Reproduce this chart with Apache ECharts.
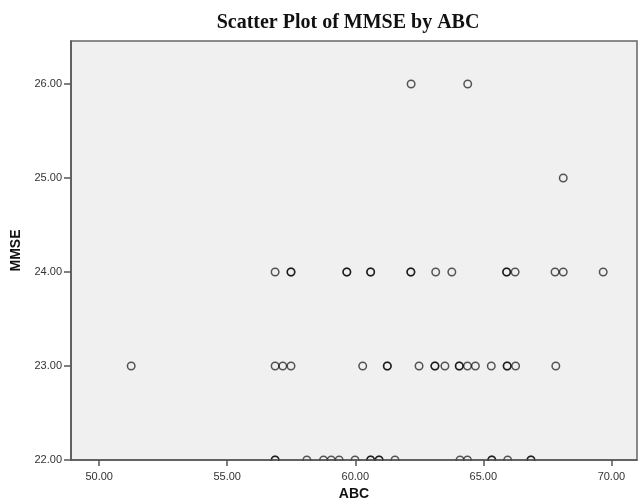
<!DOCTYPE html>
<html>
<head>
<meta charset="utf-8">
<script src="https://cdn.jsdelivr.net/npm/echarts@6/dist/echarts.min.js"></script>
<style>
  html, body { margin: 0; padding: 0; background: #fff; }
  #chart { width: 639px; height: 500px; }
</style>
</head>
<body>
<div id="chart"></div>
<script>
// 数据: 每一行 MMSE 对应的 ABC 值 (重复值表示重叠的点)
var abc22 = [56.87, 56.87, 58.11, 58.76, 59.06, 59.37, 59.99, 60.60, 60.60, 60.93, 60.93, 61.55, 64.09, 64.38, 65.33, 65.33, 65.95, 66.86, 66.86];
var abc23 = [51.25, 56.87, 57.17, 57.49, 60.29, 61.25, 61.25, 62.49, 63.11, 63.11, 63.50, 64.06, 64.06, 64.38, 64.69, 65.31, 65.93, 65.93, 66.26, 67.83];
var abc24 = [56.87, 57.49, 57.49, 59.67, 59.67, 60.60, 60.60, 62.17, 62.17, 63.14, 63.77, 65.91, 65.91, 66.24, 67.80, 68.12, 69.68];
var abc25 = [68.12];
var abc26 = [62.18, 64.39];
var xTicks = [50, 55, 60, 65, 70];
var yTicks = [22, 23, 24, 25, 26];

function rows() {
    var out = [];
    [[22, abc22], [23, abc23], [24, abc24], [25, abc25], [26, abc26]].forEach(function (r) {
        r[1].forEach(function (v) { out.push([v, r[0]]); });
    });
    return out;
}

{
    var myChart = echarts.init(document.getElementById('chart'));
    var labelStyle = { color: '#333', fontSize: 11, fontFamily: 'Liberation Sans, Arial, sans-serif' };
    var nameStyle = { color: '#111', fontSize: 14, fontWeight: 'bold', fontFamily: 'Liberation Sans, Arial, sans-serif' };
    var option = {
        backgroundColor: '#fff',
        animation: false,
        title: {
            text: 'Scatter Plot of MMSE by ABC',
            left: 343,
            textAlign: 'center',
            top: 8,
            textStyle: { fontFamily: 'Liberation Serif, Times New Roman, serif', fontWeight: 'bold', fontSize: 20, color: '#111' }
        },
        grid: {
            left: 71,
            top: 41,
            right: 2,
            bottom: 40,
            outerBoundsMode: 'none',
            containLabel: false,
            show: true,
            backgroundColor: '#f0f0f0',
            borderColor: '#666',
            borderWidth: 1.5
        },
        // 遮住底部点的下半部分 (像原图那样被坐标轴裁切)
        graphic: [{
            type: 'rect',
            z: 3,
            shape: { x: 60, y: 461, width: 579, height: 39 },
            style: { fill: '#fff' }
        }],
        xAxis: {
            type: 'value',
            z: 5,
            min: 48.9,
            max: 71.0,
            name: 'ABC',
            nameLocation: 'middle',
            nameGap: 21,
            nameTextStyle: nameStyle,
            splitLine: { show: false },
            axisLine: { show: true, onZero: false, lineStyle: { color: '#555', width: 1.5 } },
            axisTick: { show: true, length: 6, customValues: xTicks, lineStyle: { color: '#555', width: 1.5 } },
            axisLabel: Object.assign({
                margin: 11,
                customValues: xTicks,
                formatter: function (v) { return v.toFixed(2); }
            }, labelStyle)
        },
        yAxis: {
            type: 'value',
            z: 5,
            min: 22,
            max: 26.457,
            name: 'MMSE',
            nameLocation: 'middle',
            nameGap: 47,
            nameTextStyle: nameStyle,
            splitLine: { show: false },
            axisLine: { show: true, onZero: false, lineStyle: { color: '#555', width: 1.5 } },
            axisTick: { show: true, length: 7, customValues: yTicks, lineStyle: { color: '#555', width: 1.5 } },
            axisLabel: Object.assign({
                margin: 9,
                customValues: yTicks,
                formatter: function (v) { return v.toFixed(2); }
            }, labelStyle)
        },
        series: [{
            type: 'scatter',
            z: 2,
            clip: false,
            symbol: 'circle',
            symbolSize: 7.5,
            itemStyle: {
                color: 'rgba(0,0,0,0)',
                borderColor: 'rgba(0,0,0,0.82)',
                borderWidth: 1.5
            },
            data: rows()
        }]
    };
    myChart.setOption(option);
}
</script>
</body>
</html>
